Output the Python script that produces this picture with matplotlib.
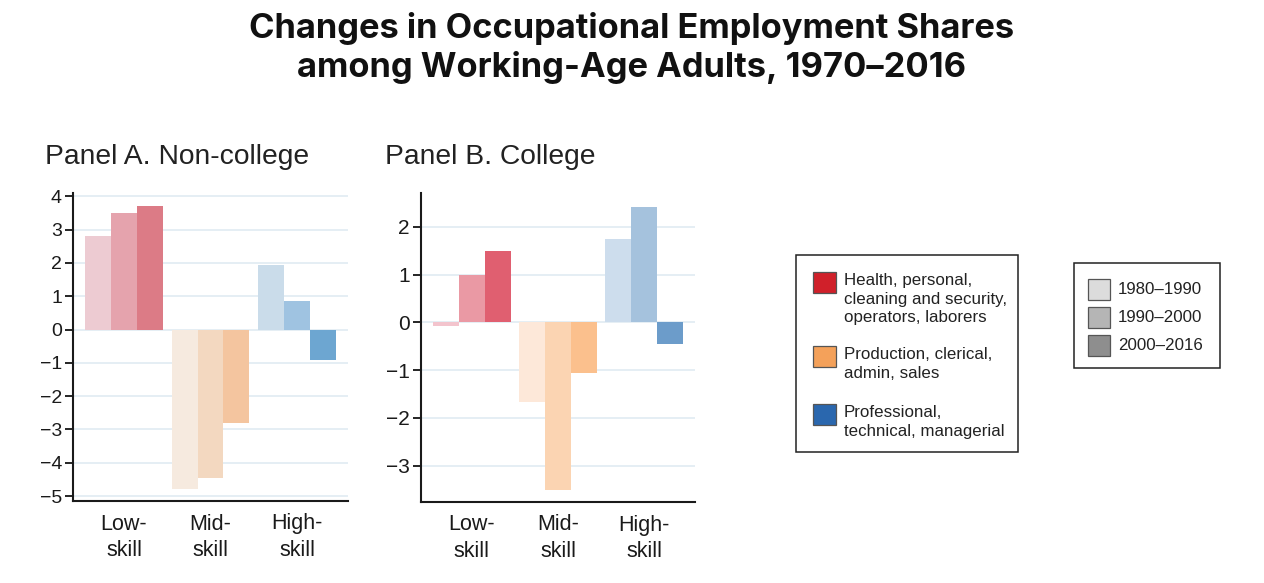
import matplotlib
matplotlib.use("Agg")
import matplotlib.pyplot as plt
from matplotlib.patches import Rectangle
import numpy as np

# ---------------- data ----------------
skill_groups = ["Low-\nskill", "Mid-\nskill", "High-\nskill"]
periods = ["1980–1990", "1990–2000", "2000–2016"]

# Panel A. Non-college: values per skill group, one per period
noncollege_low = [2.8, 3.5, 3.7]
noncollege_mid = [-4.8, -4.45, -2.8]
noncollege_high = [1.95, 0.87, -0.93]

# Panel B. College
college_low = [-0.08, 1.0, 1.5]
college_mid = [-1.66, -3.5, -1.05]
college_high = [1.74, 2.42, -0.46]

occupation_labels = ["Health, personal,\ncleaning and security,\noperators, laborers",
                     "Production, clerical,\nadmin, sales",
                     "Professional,\ntechnical, managerial"]

# ---------------- styles ----------------
colorsA = [["#edcbd2", "#e5a3ad", "#dc7b86"],
           ["#f6eadf", "#f3d8c0", "#f4c59f"],
           ["#cadcea", "#9fc3e1", "#6da6d1"]]
colorsB = [["#f3c4cd", "#ea99a4", "#e05f70"],
           ["#fde8d9", "#fbd4b2", "#fbc08d"],
           ["#cddded", "#a5c2dd", "#6c9cca"]]
legend_occ_colors = ["#d0202a", "#f4a15a", "#2a67ae"]
legend_period_colors = ["#dcdcdc", "#b5b5b5", "#8e8e8e"]

plt.rcParams['font.family'] = ['Liberation Sans', 'DejaVu Sans']

W, H = 1264, 583
fig = plt.figure(figsize=(W / 100, H / 100), dpi=100)


def fx(x):
    return x / W


def fy(y):
    return 1 - y / H


def draw_panel(rect, data, colors, ylim, yticks, ysize):
    ax = fig.add_axes(rect)
    x = np.arange(len(skill_groups))
    bw = 0.3
    for gi, vals in enumerate(data):
        for pi, v in enumerate(vals):
            ax.bar(x[gi] + (pi - 1) * bw, v, width=bw, color=colors[gi][pi],
                   linewidth=0, zorder=2)
    ax.set_xlim(-0.59, 2.59)
    ax.set_ylim(*ylim)
    ax.set_yticks(yticks)
    for t in yticks:
        ax.axhline(t, color="#e3edf3", linewidth=1.3, zorder=1)
    ax.set_xticks(x)
    ax.set_xticklabels(skill_groups, fontsize=15.5, linespacing=1.35, color="#1a1a1a")
    ax.tick_params(axis='x', length=0, pad=9)
    ax.tick_params(axis='y', length=6, width=1.2, labelsize=ysize, pad=2,
                   direction='out', labelcolor="#1a1a1a")
    for s in ["top", "right"]:
        ax.spines[s].set_visible(False)
    for s in ["left", "bottom"]:
        ax.spines[s].set_linewidth(1.5)
        ax.spines[s].set_color("#1a1a1a")
    return ax


draw_panel([fx(73), fy(501), fx(348) - fx(73), fy(193) - fy(501)],
           [noncollege_low, noncollege_mid, noncollege_high], colorsA,
           (-5.15, 4.1), list(range(-5, 5)), 14)
draw_panel([fx(421), fy(502), fx(695) - fx(421), fy(193) - fy(502)],
           [college_low, college_mid, college_high], colorsB,
           (-3.76, 2.71), list(range(-3, 3)), 15)

fig.text(fx(45), fy(157), "Panel A. Non-college", fontsize=20.3, va="center", ha="left",
         color="#222222")
fig.text(fx(385), fy(157), "Panel B. College", fontsize=20.3, va="center", ha="left",
         color="#222222")

fig.text(0.5, fy(48), "Changes in Occupational Employment Shares\namong Working-Age Adults, 1970–2016",
         ha="center", va="center", fontsize=24.8, fontweight="bold",
         family=["Inter", "DejaVu Sans"], linespacing=1.2, color="#111111")

# ---------------- legends (drawn in pixel coordinates) ----------------
lax = fig.add_axes([0, 0, 1, 1], zorder=5)
lax.set_xlim(0, W)
lax.set_ylim(H, 0)
lax.axis("off")

lax.add_patch(Rectangle((796, 255), 222, 197, facecolor="white", edgecolor="#222222",
                        linewidth=1.1))
occ_square_tops = [272, 346, 404]
for c, top, lab in zip(legend_occ_colors, occ_square_tops, occupation_labels):
    lax.add_patch(Rectangle((813, top), 23, 21, facecolor=c, edgecolor="#555555",
                            linewidth=0.9))
    lax.text(844, top + 1, lab, fontsize=12.2, va="top", ha="left",
             linespacing=1.3, color="#222222")

lax.add_patch(Rectangle((1074, 263), 146, 105, facecolor="white", edgecolor="#222222",
                        linewidth=1.1))
per_square_tops = [279, 307, 335]
for c, top, lab in zip(legend_period_colors, per_square_tops, periods):
    lax.add_patch(Rectangle((1088, top), 22, 21, facecolor=c, edgecolor="#555555",
                            linewidth=0.9))
    lax.text(1118, top + 11, lab, fontsize=12.2, va="center", ha="left",
             color="#222222")

fig.savefig("out.png", dpi=100, facecolor="white")
